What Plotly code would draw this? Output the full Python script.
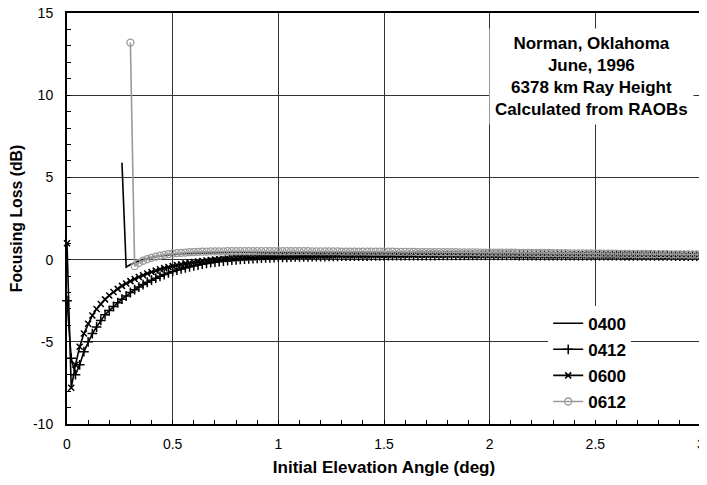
import plotly.graph_objects as go

# Initial elevation angle samples (deg)
ANGLES = [
    0.00, 0.02, 0.04, 0.06, 0.08, 0.10, 0.12, 0.14, 0.16, 0.18,
    0.20, 0.22, 0.24, 0.26, 0.28, 0.30, 0.32, 0.34, 0.36, 0.38,
    0.40, 0.42, 0.44, 0.46, 0.48, 0.50, 0.52, 0.54, 0.56, 0.58,
    0.60, 0.62, 0.64, 0.66, 0.68, 0.70, 0.72, 0.74, 0.76, 0.78,
    0.80, 0.82, 0.84, 0.86, 0.88, 0.90, 0.92, 0.94, 0.96, 0.98,
    1.00, 1.02, 1.04, 1.06, 1.08, 1.10, 1.12, 1.14, 1.16, 1.18,
    1.20, 1.22, 1.24, 1.26, 1.28, 1.30, 1.32, 1.34, 1.36, 1.38,
    1.40, 1.42, 1.44, 1.46, 1.48, 1.50, 1.52, 1.54, 1.56, 1.58,
    1.60, 1.62, 1.64, 1.66, 1.68, 1.70, 1.72, 1.74, 1.76, 1.78,
    1.80, 1.82, 1.84, 1.86, 1.88, 1.90, 1.92, 1.94, 1.96, 1.98,
    2.00, 2.02, 2.04, 2.06, 2.08, 2.10, 2.12, 2.14, 2.16, 2.18,
    2.20, 2.22, 2.24, 2.26, 2.28, 2.30, 2.32, 2.34, 2.36, 2.38,
    2.40, 2.42, 2.44, 2.46, 2.48, 2.50, 2.52, 2.54, 2.56, 2.58,
    2.60, 2.62, 2.64, 2.66, 2.68, 2.70, 2.72, 2.74, 2.76, 2.78,
    2.80, 2.82, 2.84, 2.86, 2.88, 2.90, 2.92, 2.94, 2.96, 2.98,
    3.00,
]

N = None

LOSS_0400 = [
    N, N, N, N, N, N, N, N, N, N,
    N, N, N, 5.9, -0.46, -0.3, -0.18, -0.08, 0.0, 0.07,
    0.13, 0.18, 0.22, 0.26, 0.29, 0.32, 0.34, 0.36, 0.37, 0.38,
    0.39, 0.4, 0.41, 0.41, 0.42, 0.42, 0.43, 0.43, 0.43, 0.44,
    0.44, 0.44, 0.44, 0.44, 0.45, 0.45, 0.45, 0.45, 0.45, 0.45,
    0.45, 0.45, 0.45, 0.45, 0.45, 0.45, 0.45, 0.45, 0.45, 0.45,
    0.45, 0.45, 0.45, 0.45, 0.44, 0.44, 0.44, 0.44, 0.44, 0.44,
    0.44, 0.43, 0.43, 0.43, 0.43, 0.43, 0.43, 0.42, 0.42, 0.42,
    0.42, 0.42, 0.41, 0.41, 0.41, 0.41, 0.41, 0.4, 0.4, 0.4,
    0.4, 0.4, 0.39, 0.39, 0.39, 0.39, 0.39, 0.38, 0.38, 0.38,
    0.38, 0.38, 0.37, 0.37, 0.37, 0.37, 0.36, 0.36, 0.36, 0.36,
    0.35, 0.35, 0.35, 0.35, 0.34, 0.34, 0.34, 0.34, 0.33, 0.33,
    0.33, 0.33, 0.32, 0.32, 0.32, 0.32, 0.31, 0.31, 0.31, 0.31,
    0.3, 0.3, 0.3, 0.3, 0.29, 0.29, 0.29, 0.29, 0.28, 0.28,
    0.28, 0.28, 0.27, 0.27, 0.27, 0.27, 0.26, 0.26, 0.26, 0.26,
    0.26,
]

LOSS_0412 = [
    -2.5, -6.0, -7.0, -6.4, -5.6, -5.0, -4.5, -4.1, -3.7, -3.35,
    -3.1, -2.85, -2.62, -2.41, -2.22, -2.0, -1.83, -1.67, -1.52, -1.38,
    -1.25, -1.13, -1.02, -0.91, -0.81, -0.72, -0.64, -0.57, -0.5, -0.44,
    -0.38, -0.33, -0.28, -0.23, -0.19, -0.15, -0.12, -0.09, -0.06, -0.03,
    -0.01, 0.01, 0.03, 0.05, 0.06, 0.08, 0.09, 0.1, 0.11, 0.12,
    0.13, 0.14, 0.14, 0.15, 0.16, 0.16, 0.17, 0.17, 0.18, 0.18,
    0.19, 0.19, 0.2, 0.2, 0.2, 0.21, 0.21, 0.21, 0.22, 0.22,
    0.22, 0.22, 0.23, 0.23, 0.23, 0.23, 0.24, 0.24, 0.24, 0.24,
    0.24, 0.25, 0.25, 0.25, 0.25, 0.25, 0.25, 0.25, 0.26, 0.26,
    0.26, 0.26, 0.26, 0.26, 0.26, 0.26, 0.26, 0.26, 0.26, 0.26,
    0.26, 0.26, 0.26, 0.26, 0.26, 0.26, 0.26, 0.25, 0.25, 0.25,
    0.25, 0.25, 0.25, 0.25, 0.25, 0.25, 0.25, 0.25, 0.25, 0.24,
    0.24, 0.24, 0.24, 0.24, 0.24, 0.24, 0.24, 0.24, 0.24, 0.24,
    0.24, 0.24, 0.23, 0.23, 0.23, 0.23, 0.23, 0.23, 0.23, 0.23,
    0.23, 0.23, 0.23, 0.23, 0.22, 0.22, 0.22, 0.22, 0.22, 0.22,
    0.22,
]

LOSS_0600 = [
    1.0, -7.8, -6.4, -5.3, -4.5, -3.9, -3.4, -3.0, -2.7, -2.42,
    -2.18, -1.97, -1.78, -1.6, -1.45, -1.31, -1.18, -1.06, -0.95, -0.85,
    -0.76, -0.67, -0.59, -0.52, -0.45, -0.39, -0.33, -0.28, -0.23, -0.19,
    -0.15, -0.11, -0.08, -0.05, -0.02, 0.0, 0.02, 0.04, 0.06, 0.08,
    0.09, 0.11, 0.12, 0.13, 0.14, 0.15, 0.16, 0.17, 0.18, 0.19,
    0.2, 0.2, 0.21, 0.21, 0.22, 0.22, 0.23, 0.23, 0.24, 0.24,
    0.24, 0.25, 0.25, 0.25, 0.26, 0.26, 0.26, 0.26, 0.27, 0.27,
    0.27, 0.27, 0.27, 0.28, 0.28, 0.28, 0.28, 0.28, 0.28, 0.28,
    0.29, 0.29, 0.29, 0.29, 0.29, 0.29, 0.29, 0.29, 0.29, 0.29,
    0.29, 0.29, 0.29, 0.29, 0.28, 0.28, 0.28, 0.28, 0.28, 0.28,
    0.28, 0.28, 0.28, 0.28, 0.28, 0.28, 0.27, 0.27, 0.27, 0.27,
    0.27, 0.27, 0.27, 0.27, 0.27, 0.26, 0.26, 0.26, 0.26, 0.26,
    0.26, 0.26, 0.26, 0.26, 0.25, 0.25, 0.25, 0.25, 0.25, 0.25,
    0.25, 0.25, 0.24, 0.24, 0.24, 0.24, 0.24, 0.24, 0.24, 0.23,
    0.23, 0.23, 0.23, 0.23, 0.23, 0.23, 0.22, 0.22, 0.22, 0.22,
    0.22,
]

LOSS_0612 = [
    N, N, N, N, N, N, N, N, N, N,
    N, N, N, N, N, 13.2, -0.4, -0.2, -0.07, 0.03,
    0.11, 0.18, 0.24, 0.29, 0.33, 0.36, 0.39, 0.41, 0.43, 0.45,
    0.46, 0.47, 0.48, 0.49, 0.5, 0.5, 0.5, 0.5, 0.51, 0.51,
    0.51, 0.51, 0.51, 0.51, 0.51, 0.51, 0.51, 0.51, 0.51, 0.51,
    0.51, 0.51, 0.51, 0.51, 0.51, 0.51, 0.51, 0.51, 0.5, 0.5,
    0.5, 0.5, 0.5, 0.5, 0.5, 0.49, 0.49, 0.49, 0.49, 0.49,
    0.49, 0.49, 0.48, 0.48, 0.48, 0.48, 0.48, 0.48, 0.47, 0.47,
    0.47, 0.47, 0.47, 0.46, 0.46, 0.46, 0.46, 0.46, 0.45, 0.45,
    0.45, 0.45, 0.45, 0.44, 0.44, 0.44, 0.44, 0.44, 0.43, 0.43,
    0.43, 0.43, 0.43, 0.42, 0.42, 0.42, 0.42, 0.41, 0.41, 0.41,
    0.41, 0.4, 0.4, 0.4, 0.4, 0.39, 0.39, 0.39, 0.39, 0.38,
    0.38, 0.38, 0.38, 0.37, 0.37, 0.37, 0.37, 0.36, 0.36, 0.36,
    0.36, 0.35, 0.35, 0.35, 0.35, 0.34, 0.34, 0.34, 0.34, 0.33,
    0.33, 0.33, 0.33, 0.32, 0.32, 0.32, 0.32, 0.31, 0.31, 0.31,
    0.31,
]

X_TICKS = [0, 0.5, 1, 1.5, 2, 2.5, 3]
X_TICK_TEXT = ["0", "0.5", "1", "1.5", "2", "2.5", "3"]
Y_TICKS = [-10, -5, 0, 5, 10, 15]
Y_TICK_TEXT = ["-10", "-5", "0", "5", "10", "15"]

NOTE_LINES = ["Norman, Oklahoma", "June, 1996", "6378 km Ray Height", "Calculated from RAOBs"]

FONT = "Liberation Sans, Arial, Helvetica, sans-serif"
GRAY = "#9a9a9a"

fig = go.Figure()

fig.add_trace(go.Scatter(
    x=ANGLES, y=LOSS_0400, name="0400", mode="lines", legendgroup="a",
    line=dict(color="black", width=1.6), cliponaxis=False,
))
fig.add_trace(go.Scatter(
    x=ANGLES, y=LOSS_0412, name="0412", mode="lines+markers", legendgroup="b",
    line=dict(color="black", width=1.6),
    marker=dict(symbol="cross-thin", size=7, color="black", line=dict(color="black", width=1.5)),
    cliponaxis=False,
))
fig.add_trace(go.Scatter(
    x=ANGLES, y=LOSS_0600, name="0600", mode="lines+markers", legendgroup="c",
    line=dict(color="black", width=1.6),
    marker=dict(symbol="x-thin", size=6, color="black", line=dict(color="black", width=1.5)),
    cliponaxis=False,
))
fig.add_trace(go.Scatter(
    x=ANGLES, y=LOSS_0612, name="0612", mode="lines+markers", legendgroup="d",
    line=dict(color=GRAY, width=1.6),
    marker=dict(symbol="circle-open", size=7, color=GRAY, line=dict(color=GRAY, width=1.3)),
    cliponaxis=False,
))

fig.add_annotation(
    x=0.828, y=0.846, xref="paper", yref="paper", xanchor="center", yanchor="middle",
    text="<br>".join(NOTE_LINES), showarrow=False, align="center",
    font=dict(family=FONT, size=17, color="black", weight="bold"),
    bgcolor="white", borderpad=5,
)

# The page body adds an 8 px offset, so the figure is sized to fill the rest of the window.
fig.update_layout(
    width=699, height=477,
    margin=dict(l=59, r=6, t=5, b=60.5, autoexpand=False),
    paper_bgcolor="white", plot_bgcolor="white",
    font=dict(family=FONT, color="black"),
    showlegend=True,
    legend=dict(
        x=0.759, y=0.288, xanchor="left", yanchor="top",
        bgcolor="white", borderwidth=0, tracegroupgap=1,
        font=dict(family=FONT, size=17, color="black", weight="bold"),
    ),
    xaxis=dict(
        range=[0, 3], tickvals=X_TICKS, ticktext=X_TICK_TEXT, automargin=False,
        showgrid=True, gridcolor="#333", gridwidth=1, zeroline=False,
        showline=True, linecolor="black", linewidth=2, mirror=True,
        ticks="inside", ticklen=4, tickcolor="black", ticklabelstandoff=6,
        ticklabeloverflow="allow",
        tickfont=dict(family=FONT, size=14, color="black"),
        minor=dict(dtick=0.1, ticks="inside", ticklen=4, tickcolor="black", showgrid=False),
        title=dict(text="Initial Elevation Angle (deg)", standoff=10,
                   font=dict(family=FONT, size=17, color="black", weight="bold")),
    ),
    yaxis=dict(
        range=[-10, 15], tickvals=Y_TICKS, ticktext=Y_TICK_TEXT, automargin=False,
        showgrid=True, gridcolor="#333", gridwidth=1, zeroline=False,
        showline=True, linecolor="black", linewidth=2, mirror=True,
        ticks="inside", ticklen=4, tickcolor="black", ticklabelstandoff=9,
        ticklabeloverflow="allow",
        tickfont=dict(family=FONT, size=14, color="black"),
        minor=dict(dtick=1, ticks="inside", ticklen=4, tickcolor="black", showgrid=False),
        title=dict(text="Focusing Loss (dB)", standoff=15,
                   font=dict(family=FONT, size=15.8, color="black", weight="bold")),
    ),
)

fig.write_html("out.html")
